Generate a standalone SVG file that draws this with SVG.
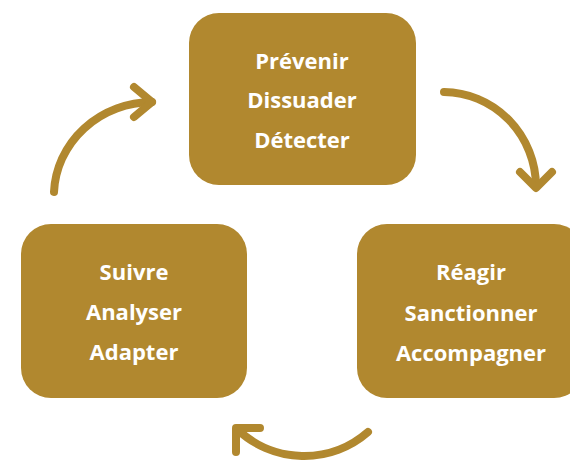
<svg xmlns="http://www.w3.org/2000/svg" width="570" height="460" viewBox="0 0 570 460">
  <style>
    .box { fill: #B1882F; }
    .lbl { font-family: "Open Sans", "Noto Sans", sans-serif; font-weight: 700; font-size: 22px; fill: #FFFFFF; text-anchor: middle; }
    .arr { fill: none; stroke: #B1882F; stroke-width: 8; stroke-linecap: round; stroke-linejoin: round; }
  </style>
  <rect width="570" height="460" fill="#FFFFFF"/>
  <g id="node-top">
    <rect class="box" x="189" y="13" width="227" height="172" rx="30" ry="30"/>
    <text class="lbl" x="302" y="69">Prévenir</text>
    <text class="lbl" x="302" y="108">Dissuader</text>
    <text class="lbl" x="302" y="148">Détecter</text>
  </g>
  <g id="node-right">
    <rect class="box" x="357" y="224" width="227" height="174" rx="30" ry="30"/>
    <text class="lbl" x="471" y="280">Réagir</text>
    <text class="lbl" x="471" y="321">Sanctionner</text>
    <text class="lbl" x="471" y="361">Accompagner</text>
  </g>
  <g id="node-left">
    <rect class="box" x="21" y="224" width="226" height="174" rx="30" ry="30"/>
    <text class="lbl" x="134" y="280">Suivre</text>
    <text class="lbl" x="134" y="320">Analyser</text>
    <text class="lbl" x="134" y="360">Adapter</text>
  </g>
  <g id="connectors">
    <path class="arr" d="M54 192 A 99 94 0 0 1 152 102"/>
    <polyline class="arr" points="134,87 152,102 134,117"/>
    <path class="arr" d="M444 92 A 93 95 0 0 1 536 186"/>
    <polyline class="arr" points="520,172 536,188 552,172"/>
    <path class="arr" d="M368 432 A 97 97 0 0 1 237 429"/>
    <polyline class="arr" points="260,428 236,428 236,452"/>
  </g>
</svg>
